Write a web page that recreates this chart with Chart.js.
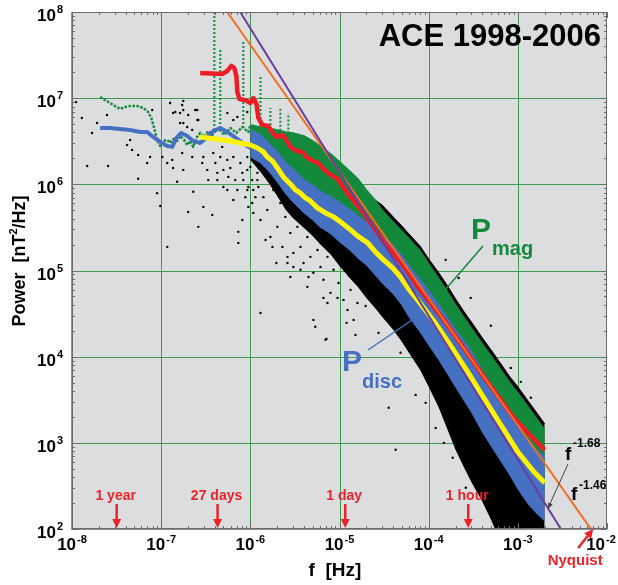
<!DOCTYPE html>
<html>
<head>
<meta charset="utf-8">
<script src="https://cdn.jsdelivr.net/npm/chart.js@4.4.1/dist/chart.umd.min.js"></script>
<style>
  body { margin: 0; background: #fff; }
  #wrap { width: 618px; height: 585px; }
</style>
</head>
<body>
<div id="wrap"><canvas id="myChart" width="618" height="585"></canvas></div>
<script>
// ---- values (f in Hz, power in nT^2/Hz) ----

// common frequency grid of the dense high-frequency bands
const bandFreqs = [1e-6, 1.3e-6, 1.6e-6, 2e-6, 2.5e-6, 3e-6, 4e-6, 5e-6, 6e-6, 8e-6,
  1e-5, 1.3e-5, 1.6e-5, 2e-5, 2.5e-5, 3e-5, 4e-5, 5e-5, 6e-5, 8e-5,
  1e-4, 1.3e-4, 1.6e-4, 2e-4, 2.5e-4, 3e-4, 4e-4, 5e-4, 6e-4, 8e-4,
  1e-3, 1.3e-3, 1.6e-3, 2e-3];

// black scatter cloud (all daily spectra), upper / lower edge
const cloudUpper = [4.16e6, 3.95e6, 3.85e6, 3.64e6, 3.45e6, 3.36e6, 3.10e6, 2.72e6, 2.38e6, 1.92e6,
  1.55e6, 1.22e6, 9.8e5, 7.33e5, 6.59e5, 5.77e5, 4.19e5, 3.29e5, 2.66e5, 1.93e5,
  1.36e5, 9.4e4, 6.81e4, 4.69e4, 3.31e4, 2.54e4, 1.65e4, 1.2e4, 9.2e3, 5.98e3,
  4.47e3, 3.07e3, 2.29e3, 1.66e3];
const cloudLower = [1.92e6, 1.39e6, 1.04e6, 7.33e5, 5.05e5, 4.07e5, 3.12e5, 2.52e5, 2.04e5, 1.52e5,
  1.13e5, 8.2e4, 6.46e4, 4.81e4, 3.68e4, 2.9e4, 2.05e4, 1.49e4, 1.11e4, 7.03e3,
  4.47e3, 2.55e3, 1.49e3, 830, 513, 353, 207, 128, 83, 50,
  50, 50, 50, 50];

// P_mag (green) band
const pmagUpper = [4.89e6, 4.63e6, 4.51e6, 4.28e6, 4.05e6, 3.95e6, 3.64e6, 3.19e6, 2.79e6, 2.25e6,
  1.82e6, 1.43e6, 1.16e6, 8.6e5, 6.59e5, 5.05e5, 3.66e5, 2.88e5, 2.33e5, 1.69e5,
  1.19e5, 8.0e4, 5.79e4, 3.99e4, 2.82e4, 2.16e4, 1.41e4, 1.02e4, 7.82e3, 5.1e3,
  3.8e3, 2.62e3, 1.95e3, 1.42e3];
const pmagLower = [3.0e6, 2.6e6, 2.1e6, 1.6e6, 1.2e6, 9.5e5, 7.2e5, 6.1e5, 5.2e5, 4.3e5,
  3.6e5, 3.0e5, 2.4e5, 2.0e5, 1.6e5, 1.3e5, 1.0e5, 7.7e4, 5.7e4, 3.9e4,
  2.8e4, 1.9e4, 1.4e4, 9.6e3, 6.8e3, 5.1e3, 3.0e3, 2.1e3, 1.6e3, 1.0e3,
  670, 450, 360, 290];

// P_disc (blue) band
const pdiscUpper = [4.28e6, 3.74e6, 3.02e6, 2.38e6, 1.77e6, 1.51e6, 1.12e6, 9.8e5, 8.4e5, 7.1e5,
  6.08e5, 5.05e5, 4.30e5, 3.66e5, 2.96e5, 2.45e5, 1.93e5, 1.48e5, 1.13e5, 7.8e4,
  5.79e4, 3.99e4, 2.9e4, 2.05e4, 1.49e4, 1.14e4, 6.84e3, 4.83e3, 3.6e3, 2.29e3,
  1.53e3, 1.05e3, 830, 689];
const pdiscLower = [2.08e6, 1.77e6, 1.43e6, 1.07e6, 7.74e5, 6.25e5, 4.66e5, 3.86e5, 3.21e5, 2.66e5,
  2.15e5, 1.73e5, 1.40e5, 1.16e5, 8.9e4, 7.18e4, 5.36e4, 3.99e4, 2.9e4, 1.94e4,
  1.37e4, 9.2e3, 6.49e3, 4.47e3, 3.07e3, 2.29e3, 1.34e3, 923, 689, 436,
  292, 196, 154, 124];

// low-frequency ends of both spectra
const pmagLowFreqs = [2.07e-8, 2.35e-8, 2.67e-8, 3.04e-8, 3.46e-8, 3.95e-8, 4.49e-8, 5.37e-8, 6.28e-8,
  7.14e-8, 7.73e-8, 8.34e-8, 9.0e-8, 9.75e-8, 1.05e-7, 1.17e-7, 1.26e-7, 1.36e-7, 1.51e-7,
  1.63e-7, 1.81e-7, 1.96e-7, 2.12e-7, 2.29e-7, 2.47e-7, 2.74e-7, 3.04e-7, 3.37e-7, 3.74e-7,
  4.37e-7, 5.11e-7, 5.96e-7, 6.97e-7, 8.13e-7, 9.5e-7, 1e-6];
const pmagLowValues = [1.03e7, 9.5e6, 8.8e6, 8.1e6, 7.5e6, 7.9e6, 8.1e6, 8.1e6, 7.7e6,
  6.92e6, 5.9e6, 4.51e6, 3.27e6, 2.79e6, 3.19e6, 3.27e6, 3.02e6, 3.36e6, 3.19e6,
  3.64e6, 3.27e6, 2.86e6, 3.19e6, 2.72e6, 3.45e6, 3.95e6, 3.55e6, 4.16e6, 3.74e6,
  4.51e6, 3.74e6, 4.51e6, 3.95e6, 4.63e6, 4.05e6, 4.89e6];
const pdiscLowFreqs = [2.07e-8, 2.67e-8, 3.46e-8, 4.49e-8, 5.81e-8, 6.97e-8, 8.13e-8, 9.75e-8, 1.17e-7,
  1.33e-7, 1.48e-7, 1.68e-7, 1.96e-7, 2.29e-7, 2.74e-7, 3.29e-7, 3.84e-7, 4.6e-7, 5.52e-7,
  6.61e-7, 7.92e-7, 1e-6];
const pdiscLowValues = [4.51e6, 4.51e6, 4.39e6, 4.28e6, 4.05e6, 4.05e6, 3.55e6, 3.10e6, 2.79e6,
  2.72e6, 3.45e6, 3.95e6, 3.64e6, 3.19e6, 3.02e6, 3.55e6, 4.16e6, 4.51e6, 4.05e6,
  3.55e6, 3.10e6, 2.64e6];

// spectral lines (spikes) in P_mag around 27 days and harmonics
const spikeFreqs = [3.95e-7, 4.6e-7, 8.34e-7, 1.3e-6, 1.68e-6, 2.17e-6, 2.67e-6];
const spikeTops = [1.2e8, 3.62e7, 4.73e7, 1.76e7, 7.7e6, 7.9e6, 6.7e6];
const spikeBases = [4.28e6, 4.51e6, 4.5e6, 4.63e6, 4.4e6, 4.2e6, 3.9e6];

// smoothed P_mag (red)
const smoothMagFreqs = [2.74e-7, 4.84e-7, 5.52e-7, 6.12e-7, 6.61e-7, 6.97e-7, 7.15e-7, 7.52e-7, 8.79e-7, 1e-6,
  1.08e-6, 1.17e-6, 1.23e-6, 1.36e-6, 1.59e-6, 1.72e-6, 1.96e-6, 2.29e-6, 2.54e-6, 2.81e-6,
  3.29e-6, 3.84e-6, 4.26e-6, 4.98e-6, 5.81e-6, 6.61e-6, 7.92e-6, 9.5e-6, 1.11e-5, 1.33e-5,
  1.59e-5, 1.86e-5, 2.23e-5, 2.67e-5, 3.12e-5, 3.74e-5, 4.84e-5, 5.96e-5, 7.52e-5, 1.05e-4,
  1.48e-4, 2.12e-4, 2.96e-4, 4.15e-4, 6.44e-4, 9e-4, 1.29e-3, 2e-3];
const smoothMagValues = [1.96e7, 1.91e7, 2.07e7, 2.37e7, 2.24e7, 1.81e7, 1.18e7, 9.8e6, 9.5e6, 8.8e6,
  1e7, 8.6e6, 5.9e6, 4.9e6, 4.75e6, 4.16e6, 3.55e6, 3.74e6, 3.27e6, 2.72e6,
  2.44e6, 2.38e6, 2.08e6, 1.87e6, 1.77e6, 1.51e6, 1.29e6, 1.16e6, 9.1e5, 7.1e5,
  5.77e5, 4.66e5, 3.56e5, 2.73e5, 2.15e5, 1.73e5, 1.26e5, 9.4e4, 6.46e4, 4.2e4,
  2.67e4, 1.57e4, 9.7e3, 5.83e3, 3.16e3, 1.95e3, 1.31e3, 830];

// smoothed P_disc (yellow)
const smoothDiscFreqs = [2.74e-7, 4.05e-7, 5.96e-7, 7.73e-7, 1e-6, 1.2e-6, 1.4e-6, 1.55e-6, 1.77e-6, 2.01e-6,
  2.35e-6, 2.81e-6, 3.21e-6, 3.65e-6, 4.15e-6, 4.72e-6, 5.66e-6, 6.97e-6, 8.57e-6, 1.03e-5,
  1.33e-5, 1.59e-5, 2.07e-5, 2.53e-5, 3.12e-5, 3.94e-5, 4.84e-5, 5.96e-5, 7.52e-5, 1.14e-4,
  1.77e-4, 2.74e-4, 4.15e-4, 6.44e-4, 1e-3, 1.51e-3, 2e-3];
const smoothDiscValues = [3.55e6, 3.36e6, 3.19e6, 3.02e6, 2.86e6, 2.64e6, 2.38e6, 2.08e6, 1.87e6, 1.55e6,
  1.22e6, 1.01e6, 8.6e5, 7.9e5, 6.95e5, 6.41e5, 5.32e5, 4.66e5, 4.19e5, 3.66e5,
  2.96e5, 2.52e5, 2.09e5, 1.64e5, 1.33e5, 1.07e5, 8.4e4, 6.12e4, 4.56e4, 2.6e4,
  1.33e4, 6.67e3, 3.33e3, 1.62e3, 787, 461, 344];

// isolated scatter points outside the dense cloud
const dotFreqs = [1.11e-8, 1.29e-8, 1.68e-8, 1.91e-8, 2.47e-8, 4.15e-8, 4.49e-8, 4.72e-8, 5.52e-8, 1.48e-8,
  2.54e-8, 5.52e-8, 6.97e-8, 7.93e-8, 9.0e-8, 1.03e-7, 1.17e-7, 1.33e-7, 1.36e-7, 1.51e-7,
  1.77e-7, 1.77e-7, 1.72e-7, 1.96e-7, 2.23e-7, 2.29e-7, 2.61e-7, 9.75e-8, 1.17e-7, 7.52e-8,
  1.36e-7, 1.72e-7, 1.77e-7, 2.01e-7, 2.54e-7, 2.61e-7, 2.97e-7, 3.74e-7, 4.26e-7, 4.98e-7,
  5.52e-7, 6.44e-7, 7.33e-7, 7.33e-7, 9.25e-7, 9.5e-7, 8.13e-7, 1.08e-6, 1.63e-7, 5.52e-7,
  7.15e-7, 9.25e-7, 6.44e-7, 1.3e-6, 1.48e-6, 1.77e-6, 1.96e-6, 2.81e-6, 3.04e-6, 4.36e-6,
  5.1e-6, 5.35e-6, 7.14e-6, 9.5e-6, 1.2e-5, 1.51e-5, 7.33e-6, 6.61e-6, 3.65e-6, 4.49e-6,
  2.61e-6, 4.26e-5, 3.56e-5, 6.97e-6, 1.55e-4, 2.96e-4, 4.98e-4, 8.34e-4, 1.4e-3, 2.17e-4,
  1.08e-3, 7.14e-5, 1.2e-4, 1.86e-4, 2.61e-4, 4.84e-5, 2.74e-5, 1.96e-5, 1.48e-4, 9.25e-5,
  1.26e-7, 1.44e-7, 1.63e-7, 1.77e-7, 2.01e-7, 2.23e-7, 2.41e-7, 2.54e-7, 2.89e-7, 2.97e-7,
  3.29e-7, 3.37e-7, 3.84e-7, 4.05e-7, 4.26e-7, 4.6e-7, 4.84e-7, 4.98e-7, 5.52e-7, 5.66e-7,
  5.96e-7, 6.44e-7, 6.77e-7, 7.15e-7, 7.73e-7, 8.13e-7, 8.34e-7, 8.79e-7, 9.25e-7, 9.5e-7,
  1e-6, 1.05e-6, 1.08e-6, 1.14e-6, 1.2e-6, 1.23e-6, 9.25e-7, 1.05e-6, 1.2e-6, 1.3e-6,
  1.4e-6, 1.55e-6, 1.68e-6, 1.81e-6, 2.01e-6, 2.17e-6, 2.29e-6, 2.47e-6, 2.61e-6, 2.81e-6,
  3.04e-6, 3.37e-6, 3.65e-6, 3.95e-6, 4.36e-6, 4.72e-6, 5.1e-6, 5.66e-6, 6.12e-6, 6.61e-6,
  7.33e-6, 7.92e-6, 8.57e-6, 9.75e-6, 1.11e-5, 1.23e-5, 1.33e-5, 1.44e-5, 1.59e-5];
const dotValues = [9.0e6, 5.89e6, 3.95e6, 5.15e6, 6.38e6, 2.86e6, 3.27e6, 2.51e6, 2.19e6, 1.63e6,
  1.63e6, 1.16e6, 1.77e6, 7.3e6, 7.9e5, 2.08e6, 1.77e6, 1.92e6, 1.55e6, 1.07e6,
  9.3e6, 7.3e6, 2.31e6, 4.63e6, 2.08e6, 8.2e5, 5.58e6, 5.61e5, 1.88e5, 2.08e6,
  6.73e6, 8.34e6, 1.47e6, 4.79e5, 7.3e6, 3.21e5, 5.47e5, 4.42e5, 1.12e6, 1.47e6,
  8.6e5, 6.59e5, 2.81e5, 2.09e5, 1.47e6, 9.33e5, 3.86e5, 8.6e5, 5.15e6, 6.73e6,
  6.05e6, 6.92e6, 5.58e6, 3.22e4, 2.26e5, 1.88e5, 1.22e5, 8.4e4, 1.1e5, 6.46e4,
  2.67e4, 2.22e4, 1.61e4, 4.81e4, 2.47e4, 1.79e4, 4.2e4, 4.81e4, 1.02e5, 8.4e4,
  1.44e5, 830, 2.55e3, 1.57e4, 1.33e5, 4.81e4, 2.28e4, 7.41e3, 3.33e3, 8.2e4,
  5.1e3, 3.6e3, 1.49e3, 670, 301, 1.11e4, 1.89e4, 3.88e4, 1.0e3, 2.91e3,
  8.8e6, 6.92e6, 6.73e6, 5.15e6, 6.38e6, 4.28e6, 7.3e6, 5.58e6, 1.77e6, 2.08e6,
  1.47e6, 1.12e6, 2.31e6, 1.77e6, 1.36e6, 2.08e6, 2.72e6, 9.33e5, 1.92e6, 1.22e6,
  1.55e6, 2.08e6, 1.12e6, 8.6e5, 1.77e6, 1.36e6, 1.12e6, 7.1e5, 2.08e6, 5.47e5,
  1.59e6, 1.12e6, 4.66e5, 7.1e5, 1.36e6, 9.33e5, 8.6e5, 6.08e5, 1.12e6, 3.86e5,
  7.1e5, 5.05e5, 2.45e5, 8.6e5, 3.21e5, 6.08e5, 1.88e5, 4.19e5, 1.22e5, 2.73e5,
  1.6e5, 3.21e5, 1.88e5, 1.22e5, 2.45e5, 1.44e5, 9.4e4, 1.73e5, 1.1e5, 7.8e4,
  1.44e5, 5.5e4, 1.02e5, 7.18e4, 4.56e4, 3.49e4, 5.96e4, 2.67e4, 4.2e4];

// power-law guide lines (end points where they leave the frame)
const fit146Freqs = [5.5e-7, 6.6e-3];
const fit146Values = [1e8, 1e2];
const fit168Freqs = [7.7e-7, 3.04e-3];
const fit168Values = [1e8, 1e2];

// time-scale markers along the bottom
const eventLabels = ['1 year', '27 days', '1 day', '1 hour'];
const eventFreqs = [3.17e-8, 4.29e-7, 1.16e-5, 2.78e-4];
const nyquistFreq = 7.0e-3;

// axis decades
const xTickExps = [-8, -7, -6, -5, -4, -3, -2];
const yTickExps = [2, 3, 4, 5, 6, 7, 8];

// ---- colours ----
const GREEN = '#13893b';
const BLUE = '#4670c2';
const RED = '#ee1c24';
const YELLOW = '#fff200';
const ORANGE = '#f26f21';
const PURPLE = '#6a3ea1';
const MARK_RED = '#e8242b';
const FONT = '"Liberation Sans", Arial, sans-serif';

const pts = (xs, ys) => xs.map((x, i) => ({ x: x, y: ys[i] }));

const spikePoints = spikeFreqs.flatMap((f, i) => [
  { x: f, y: spikeBases[i] }, { x: f, y: spikeTops[i] }, { x: f, y: null }
]);

const lineDs = (label, data, color, width, order, extra) => Object.assign({
  label: label, data: data, borderColor: color, backgroundColor: color,
  borderWidth: width, pointRadius: 0, tension: 0, fill: false, order: order,
  borderJoinStyle: 'round'
}, extra || {});

const datasets = [
  lineDs('cloud lower', pts(bandFreqs, cloudLower), '#000', 0, 10),
  lineDs('cloud upper', pts(bandFreqs, cloudUpper), '#000', 1, 10, { fill: '-1' }),
  {
    label: 'scatter', data: pts(dotFreqs, dotValues), showLine: false,
    pointRadius: 1.2, pointBorderWidth: 0, pointBackgroundColor: '#000', order: 11
  },
  lineDs('Pmag low', pts(pmagLowFreqs, pmagLowValues), GREEN, 2.5, 9, { borderDash: [2.5, 1.5], borderCapStyle: 'butt' }),
  lineDs('Pmag lower', pts(bandFreqs, pmagLower), GREEN, 0, 8),
  lineDs('Pmag upper', pts(bandFreqs, pmagUpper), GREEN, 1.5, 8, { fill: '-1' }),
  lineDs('Pmag spikes', spikePoints, GREEN, 2, 8, { borderDash: [2, 2], borderCapStyle: 'butt' }),
  lineDs('Pdisc low', pts(pdiscLowFreqs, pdiscLowValues), BLUE, 4, 7),
  lineDs('Pdisc lower', pts(bandFreqs, pdiscLower), BLUE, 1, 6),
  lineDs('Pdisc upper', pts(bandFreqs, pdiscUpper), BLUE, 1.5, 6, { fill: '-1' }),
  lineDs('Pmag smoothed', pts(smoothMagFreqs, smoothMagValues), RED, 4.5, 5),
  lineDs('Pdisc smoothed', pts(smoothDiscFreqs, smoothDiscValues), YELLOW, 5, 4),
  lineDs('f^-1.46', pts(fit146Freqs, fit146Values), ORANGE, 2, 3),
  lineDs('f^-1.68', pts(fit168Freqs, fit168Values), PURPLE, 2, 2)
];

// draws "10" with a raised exponent
function drawPower(ctx, exp, x, y, align, baseSize, expSize, rise) {
  ctx.font = 'bold ' + baseSize + 'px ' + FONT;
  const wb = ctx.measureText('10').width;
  ctx.font = 'bold ' + expSize + 'px ' + FONT;
  const we = ctx.measureText(String(exp)).width;
  let left = align === 'right' ? x - wb - we - 1 : x - (wb + we + 1) / 2;
  ctx.textAlign = 'left';
  ctx.font = 'bold ' + baseSize + 'px ' + FONT;
  ctx.fillText('10', left, y);
  ctx.font = 'bold ' + expSize + 'px ' + FONT;
  ctx.fillText(String(exp), left + wb + 1, y - rise);
}

function arrowHead(ctx, x1, y1, x2, y2, len, half) {
  const ang = Math.atan2(y2 - y1, x2 - x1);
  ctx.beginPath();
  ctx.moveTo(x2, y2);
  ctx.lineTo(x2 - len * Math.cos(ang) + half * Math.sin(ang), y2 - len * Math.sin(ang) - half * Math.cos(ang));
  ctx.lineTo(x2 - len * Math.cos(ang) - half * Math.sin(ang), y2 - len * Math.sin(ang) + half * Math.cos(ang));
  ctx.closePath();
  ctx.fill();
}

const decorations = {
  id: 'decorations',
  beforeDraw(chart) {
    const { ctx, chartArea: a } = chart;
    ctx.save();
    ctx.fillStyle = '#fff';
    ctx.fillRect(0, 0, chart.width, chart.height);
    ctx.fillStyle = '#dcdddf';
    ctx.fillRect(a.left, a.top, a.right - a.left, a.bottom - a.top);
    ctx.restore();
  },
  beforeDatasetsDraw(chart) {
    const { ctx, chartArea: a, scales: { x, y } } = chart;
    ctx.save();
    ctx.strokeStyle = '#3f9b4b';
    ctx.lineWidth = 1;
    ctx.beginPath();
    xTickExps.slice(1, -1).forEach(e => {
      const px = Math.round(x.getPixelForValue(Math.pow(10, e))) + 0.5;
      ctx.moveTo(px, a.top); ctx.lineTo(px, a.bottom);
    });
    yTickExps.slice(1, -1).forEach(e => {
      const py = Math.round(y.getPixelForValue(Math.pow(10, e))) + 0.5;
      ctx.moveTo(a.left, py); ctx.lineTo(a.right, py);
    });
    ctx.stroke();
    ctx.restore();
  },
  afterDatasetsDraw(chart) {
    const { ctx, chartArea: a, scales: { x, y } } = chart;
    ctx.save();

    // frame and inward ticks
    ctx.strokeStyle = '#6b6b6b';
    ctx.lineWidth = 1;
    ctx.strokeRect(a.left + 0.5, a.top + 0.5, a.right - a.left - 1, a.bottom - a.top - 1);
    ctx.lineWidth = 1.5;
    ctx.beginPath();
    ctx.moveTo(a.left, a.top); ctx.lineTo(a.left, a.bottom); ctx.lineTo(a.right, a.bottom);
    ctx.stroke();
    ctx.lineWidth = 1;
    ctx.beginPath();
    for (let e = -8; e <= -2; e++) {
      for (let k = 1; k <= 9; k++) {
        if (e === -2 && k > 1) break;
        const px = Math.round(x.getPixelForValue(k * Math.pow(10, e))) + 0.5;
        const len = k === 1 ? 6 : 3;
        ctx.moveTo(px, a.bottom); ctx.lineTo(px, a.bottom - len);
        ctx.moveTo(px, a.top); ctx.lineTo(px, a.top + len);
      }
    }
    for (let e = 2; e <= 8; e++) {
      for (let k = 1; k <= 9; k++) {
        if (e === 8 && k > 1) break;
        const py = Math.round(y.getPixelForValue(k * Math.pow(10, e))) + 0.5;
        const len = k === 1 ? 6 : 3;
        ctx.moveTo(a.left, py); ctx.lineTo(a.left + len, py);
        ctx.moveTo(a.right, py); ctx.lineTo(a.right - len, py);
      }
    }
    ctx.stroke();

    // tick labels (the last x label is pulled in so it stays on the page)
    ctx.fillStyle = '#000';
    ctx.textBaseline = 'alphabetic';
    xTickExps.forEach(e => {
      const px = Math.min(x.getPixelForValue(Math.pow(10, e)), chart.width - 17);
      drawPower(ctx, e, px, a.bottom + 21, 'center', 17, 11, 7);
    });
    yTickExps.forEach(e => drawPower(ctx, e, a.left - 9, y.getPixelForValue(Math.pow(10, e)) + 9, 'right', 17, 11, 8));

    // axis titles
    ctx.font = 'bold 19px ' + FONT;
    ctx.textAlign = 'center';
    ctx.fillText('f  [Hz]', 335, 576);

    ctx.save();
    ctx.translate(25, 261);
    ctx.rotate(-Math.PI / 2);
    const parts = [['Power  [nT', 18, 0], ['2', 11, 8], ['/Hz]', 18, 0]];
    let total = 0;
    parts.forEach(p => { ctx.font = 'bold ' + p[1] + 'px ' + FONT; total += ctx.measureText(p[0]).width; });
    let cx = -total / 2;
    ctx.textAlign = 'left';
    parts.forEach(p => {
      ctx.font = 'bold ' + p[1] + 'px ' + FONT;
      ctx.fillText(p[0], cx, -p[2]);
      cx += ctx.measureText(p[0]).width;
    });
    ctx.restore();

    // title
    ctx.font = 'bold 31px ' + FONT;
    ctx.textAlign = 'right';
    ctx.fillText('ACE 1998-2006', 601, 46);

    // time-scale markers
    ctx.fillStyle = MARK_RED;
    ctx.strokeStyle = MARK_RED;
    eventFreqs.forEach((f, i) => {
      const px = x.getPixelForValue(f);
      ctx.lineWidth = 2.5;
      ctx.beginPath();
      ctx.moveTo(px, a.bottom - 25); ctx.lineTo(px, a.bottom - 8);
      ctx.stroke();
      arrowHead(ctx, px, a.bottom - 25, px, a.bottom - 1, 9, 4.5);
      ctx.font = 'bold 14px ' + FONT;
      ctx.textAlign = 'center';
      ctx.fillText(eventLabels[i], px - 1, a.bottom - 29);
    });
    const nx = x.getPixelForValue(nyquistFreq);
    ctx.lineWidth = 2.5;
    ctx.beginPath();
    ctx.moveTo(nx - 15, a.bottom + 19); ctx.lineTo(nx - 4, a.bottom + 5);
    ctx.stroke();
    arrowHead(ctx, nx - 15, a.bottom + 19, nx, a.bottom, 9, 4.5);
    ctx.font = 'bold 15px ' + FONT;
    ctx.textAlign = 'center';
    ctx.fillText('Nyquist', nx - 18, a.bottom + 36);

    // spectrum labels
    ctx.textAlign = 'left';
    ctx.fillStyle = GREEN;
    ctx.font = 'bold 30px ' + FONT;
    ctx.fillText('P', 471, 239);
    ctx.font = 'bold 20px ' + FONT;
    ctx.fillText('mag', 492, 255);
    ctx.strokeStyle = GREEN;
    ctx.lineWidth = 1.5;
    ctx.beginPath(); ctx.moveTo(483, 246); ctx.lineTo(445, 290); ctx.stroke();

    ctx.fillStyle = BLUE;
    ctx.font = 'bold 30px ' + FONT;
    ctx.fillText('P', 342, 371);
    ctx.font = 'bold 20px ' + FONT;
    ctx.fillText('disc', 362, 388);
    ctx.strokeStyle = BLUE;
    ctx.beginPath(); ctx.moveTo(368, 350); ctx.lineTo(415, 318); ctx.stroke();

    // power-law labels
    ctx.fillStyle = '#000';
    ctx.font = 'bold 19px ' + FONT;
    ctx.fillText('f', 565, 460);
    ctx.fillText('f', 571, 500);
    ctx.font = 'bold 12px ' + FONT;
    ctx.fillText('-1.68', 573, 447);
    ctx.fillText('-1.46', 579, 489);
    ctx.strokeStyle = '#444';
    ctx.fillStyle = '#444';
    ctx.lineWidth = 1;
    ctx.beginPath(); ctx.moveTo(568, 464); ctx.lineTo(549, 506); ctx.stroke();
    arrowHead(ctx, 568, 464, 548, 509, 6, 2.5);

    ctx.restore();
  }
};

new Chart(document.getElementById('myChart').getContext('2d'), {
  type: 'line',
  data: { datasets: datasets },
  options: {
    responsive: false,
    animation: false,
    events: [],
    layout: { padding: { left: 72, right: 11, top: 12, bottom: 56 } },
    plugins: { legend: { display: false }, tooltip: { enabled: false } },
    scales: {
      x: { type: 'logarithmic', min: 1e-8, max: 1e-2, display: false },
      y: { type: 'logarithmic', min: 1e2, max: 1e8, display: false }
    }
  },
  plugins: [decorations]
});
</script>
</body>
</html>
